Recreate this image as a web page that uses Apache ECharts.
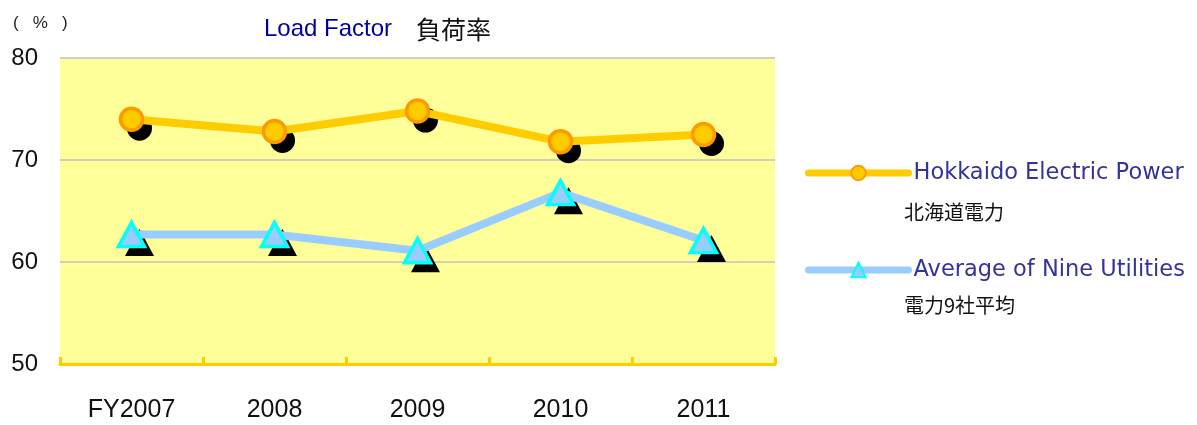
<!DOCTYPE html>
<html>
<head>
<meta charset="utf-8">
<script src="https://cdn.jsdelivr.net/npm/echarts@6/dist/echarts.min.js"></script>
<style>html,body{margin:0;padding:0;background:#fff;}#c{width:1197px;height:425px;}</style>
</head>
<body>
<div id="c"></div>
<script>
const categories = ['FY2007', '2008', '2009', '2010', '2011'];
const hokkaido = [74.0, 72.8, 74.8, 71.8, 72.5];
const nineAvg = [62.7, 62.7, 61.1, 66.8, 62.1];
const seriesNames = ['Hokkaido Electric Power', 'Average of Nine Utilities'];
const seriesNamesJa = ['北海道電力', '電力9社平均'];
const yTicks = [50, 60, 70, 80];

const shadowSeries = (data, symbol, size, offset) => ({
  type: 'line',
  data: data,
  symbol: symbol,
  symbolSize: size,
  symbolOffset: offset,
  showSymbol: true,
  lineStyle: { opacity: 0, width: 0 },
  itemStyle: { color: '#000', borderWidth: 0 },
  silent: true,
  z: 1,
  emphasis: { disabled: true },
  tooltip: { show: false }
});

const chart = echarts.init(document.getElementById('c'));
chart.setOption({
  animation: false,
  backgroundColor: '#ffffff',
  title: [
    {
      text: '{en|Load Factor}{ja|負荷率}',
      left: 259, top: 12,
      textStyle: {
        fontWeight: 'normal',
        rich: {
          en: { fontFamily: 'Liberation Sans', fontSize: 24, fontWeight: 'normal', color: '#0000A0' },
          ja: { fontFamily: 'Noto Sans CJK JP', fontSize: 25, fontWeight: 'normal', color: '#111', padding: [0, 0, 0, 24] }
        }
      }
    },
    {
      text: '(   %   )',
      left: 8, top: 10,
      textStyle: { fontFamily: 'Liberation Sans', fontSize: 17, fontWeight: 'normal', color: '#222' }
    }
  ],
  grid: {
    left: 60, right: 422, top: 58, bottom: 61,
    show: true, backgroundColor: '#FFFF99', borderWidth: 0
  },
  legend: {
    orient: 'vertical',
    left: 805, top: 161,
    padding: 0,
    itemWidth: 100, itemHeight: 18, itemGap: 73,
    data: seriesNames,
    lineStyle: { width: 7, cap: 'round' },
    textStyle: { fontFamily: 'DejaVu Sans', fontSize: 22.5, color: '#333399', lineHeight: 24 }
  },
  xAxis: {
    type: 'category',
    data: categories,
    boundaryGap: true,
    axisLine: { show: true, lineStyle: { color: '#FFCC00', width: 3 } },
    axisTick: { show: true, inside: true, length: 7, lineStyle: { color: '#FFCC00', width: 3 } },
    axisLabel: { margin: 34, fontFamily: 'Liberation Sans', fontSize: 25, color: '#111' },
    splitLine: { show: false }
  },
  yAxis: {
    type: 'value',
    min: yTicks[0], max: yTicks[yTicks.length - 1], interval: 10,
    axisLine: { show: false },
    axisTick: { show: false },
    axisLabel: { margin: 22, fontFamily: 'Liberation Sans', fontSize: 24, color: '#111' },
    splitLine: { show: true, lineStyle: { color: '#C0C0C0', width: 1.5 } }
  },
  graphic: [
    { type: 'text', left: 904, top: 202, style: { text: seriesNamesJa[0], font: '20px "Noto Sans CJK JP"', fill: '#111' } },
    { type: 'text', left: 904, top: 295, style: { text: seriesNamesJa[1], font: '20px "Noto Sans CJK JP"', fill: '#111' } }
  ],
  series: [
    shadowSeries(hokkaido, 'circle', 25, [8, 9]),
    shadowSeries(nineAvg, 'triangle', [29, 27], [8, 8]),
    {
      name: seriesNames[0],
      type: 'line',
      data: hokkaido,
      symbol: 'circle',
      symbolSize: 22,
      z: 3,
      lineStyle: { color: '#FFCC00', width: 8 },
      itemStyle: { color: '#FFCC00', borderColor: '#FF9900', borderWidth: 3.5 },
      emphasis: { disabled: true }
    },
    {
      name: seriesNames[1],
      type: 'line',
      data: nineAvg,
      symbol: 'triangle',
      symbolSize: [26, 24],
      z: 3,
      lineStyle: { color: '#99CCFF', width: 8 },
      itemStyle: { color: '#99CCFF', borderColor: '#00FFFF', borderWidth: 3.5 },
      emphasis: { disabled: true }
    }
  ]
});
</script>
</body>
</html>
